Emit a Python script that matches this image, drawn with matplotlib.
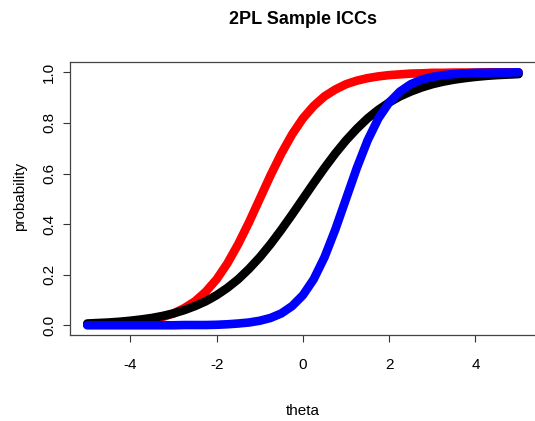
import matplotlib
matplotlib.use("Agg")
import matplotlib.pyplot as plt
from matplotlib import font_manager

# theta grid and item probabilities
theta = [-5.0, -4.75, -4.5, -4.25, -4.0, -3.75, -3.5, -3.25, -3.0, -2.75,
         -2.5, -2.25, -2.0, -1.75, -1.5, -1.25, -1.0, -0.75, -0.5, -0.25,
         0.0, 0.25, 0.5, 0.75, 1.0, 1.25, 1.5, 1.75, 2.0, 2.25,
         2.5, 2.75, 3.0, 3.25, 3.5, 3.75, 4.0, 4.25, 4.5, 4.75, 5.0]

p_black = [0.007, 0.009, 0.011, 0.014, 0.018, 0.023, 0.029, 0.037, 0.047, 0.060,
           0.076, 0.095, 0.119, 0.148, 0.182, 0.223, 0.269, 0.321, 0.378, 0.438,
           0.500, 0.562, 0.622, 0.679, 0.731, 0.777, 0.818, 0.852, 0.881, 0.905,
           0.924, 0.940, 0.953, 0.963, 0.971, 0.977, 0.982, 0.986, 0.989, 0.991, 0.993]

p_red = [0.002, 0.004, 0.005, 0.008, 0.011, 0.016, 0.023, 0.033, 0.047, 0.068,
         0.095, 0.133, 0.182, 0.245, 0.321, 0.407, 0.500, 0.593, 0.679, 0.755,
         0.818, 0.867, 0.905, 0.932, 0.953, 0.967, 0.977, 0.984, 0.989, 0.992,
         0.995, 0.996, 0.998, 0.998, 0.999, 0.999, 0.999, 1.000, 1.000, 1.000, 1.000]

p_blue = [0.000, 0.000, 0.000, 0.000, 0.000, 0.000, 0.000, 0.000, 0.000, 0.001,
          0.001, 0.001, 0.002, 0.004, 0.007, 0.011, 0.018, 0.029, 0.047, 0.076,
          0.119, 0.182, 0.269, 0.378, 0.500, 0.622, 0.731, 0.818, 0.881, 0.924,
          0.953, 0.971, 0.982, 0.989, 0.993, 0.996, 0.998, 0.998, 0.999, 0.999, 1.000]

names = {f.name for f in font_manager.fontManager.ttflist}
family = "Liberation Sans Narrow" if "Liberation Sans Narrow" in names else "Liberation Sans"
plt.rcParams["font.family"] = [family, "DejaVu Sans"]
plt.rcParams["axes.unicode_minus"] = False

W, H = 535, 421
fig = plt.figure(figsize=(W / 100, H / 100), dpi=100)
# right edge of the box sits just past the image border, as in the original
ax = fig.add_axes([70 / W, 1 - 335.4 / H, 468 / W, 273.2 / H])

lw = 6.2
ax.plot(theta, p_red, color="#ff0000", lw=lw, solid_capstyle="round", solid_joinstyle="round")
ax.plot(theta, p_black, color="black", lw=lw, solid_capstyle="round", solid_joinstyle="round")
ax.plot(theta, p_blue, color="#0000ff", lw=lw, solid_capstyle="round", solid_joinstyle="round")

ax.set_xlim(-5.4, 5.45)
ax.set_ylim(-0.04, 1.04)
ax.set_xticks([-4, -2, 0, 2, 4])
ax.set_yticks([0.0, 0.2, 0.4, 0.6, 0.8, 1.0])
ax.set_yticklabels(["0.0", "0.2", "0.4", "0.6", "0.8", "1.0"], rotation=90, va="center")
ax.tick_params(direction="out", length=5, width=0.8, labelsize=11, color="#333333")
ax.tick_params(axis="x", pad=11)
ax.tick_params(axis="y", pad=5)
for s in ax.spines.values():
    s.set_linewidth(0.9)
    s.set_color("#444444")
ax.spines["right"].set_visible(False)

fig.text(303 / W, 1 - 20 / H, "2PL Sample ICCs", ha="center", va="center",
         fontsize=13, fontweight="bold")
fig.text(303 / W, 1 - 411 / H, "theta", ha="center", va="center", fontsize=11)
fig.text(20 / W, 1 - 196 / H, "probability", ha="center", va="center",
         fontsize=11, rotation=90)

fig.savefig("out.png", dpi=100)
